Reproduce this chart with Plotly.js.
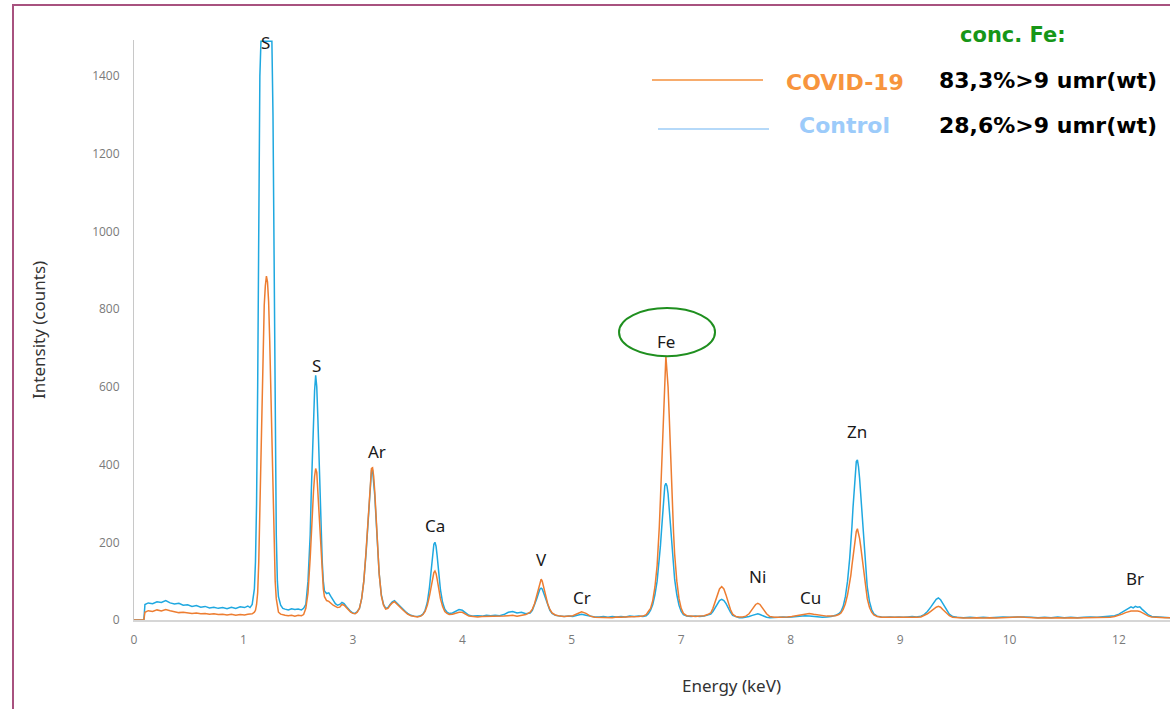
<!DOCTYPE html>
<html>
<head>
<meta charset="utf-8">
<script src="https://cdn.plot.ly/plotly-3.0.1.min.js"></script>
<style>
html,body{margin:0;padding:0;background:#fff;}
#chart{width:1170px;height:709px;}
</style>
</head>
<body>
<div id="chart"></div>
<script>
// Axis positions (evenly spaced label slots) and the labels printed under them
var tickPos = [0,1,2,3,4,5,6,7,8,9];
var tickLabels = ['0','1','3','4','5','7','8','9','10','12'];
var yTicks = [0,200,400,600,800,1000,1200,1400];

// Energy position along the axis (in label slots)
var energyPos = [
0.00,0.09,0.10,0.13,0.17,0.21,0.25,0.29,0.33,0.37,0.41,0.45,0.49,0.53,0.57,0.61,0.65,0.69,0.73,0.77,0.81,0.85,0.89,0.93,0.97,1.01,1.04,
1.06,1.08,1.10,1.11,1.12,1.13,1.14,1.15,1.16,1.17,1.18,1.19,1.20,1.21,1.22,1.23,1.24,1.25,1.26,1.27,1.28,1.29,1.30,1.31,1.32,1.34,1.36,
1.38,1.41,1.44,1.47,1.50,1.53,1.55,
1.57,1.59,1.61,1.62,1.63,1.64,1.65,1.66,1.67,1.68,1.69,1.70,1.71,1.72,1.73,1.74,1.76,1.78,1.80,1.82,1.84,1.86,1.88,1.90,1.92,1.94,1.96,1.98,2.00,2.02,2.04,
2.06,2.08,2.10,2.12,2.13,2.14,2.15,2.16,2.17,2.18,2.19,2.20,2.21,2.22,2.23,2.24,2.26,2.28,2.30,2.32,2.34,2.36,2.38,2.40,2.42,2.44,2.46,2.48,2.50,2.53,2.56,2.59,2.62,
2.64,2.66,2.68,2.70,2.71,2.72,2.73,2.74,2.75,2.76,2.77,2.78,2.79,2.80,2.82,2.84,2.86,2.88,2.91,2.94,2.97,3.00,3.03,3.06,3.10,3.14,3.18,3.22,3.26,3.30,3.34,3.38,3.42,3.46,3.50,3.54,3.58,
3.62,3.64,3.66,3.68,3.70,3.71,3.72,3.73,3.74,3.76,3.78,3.80,3.82,3.85,3.89,3.93,3.97,4.01,4.05,4.09,4.13,4.17,4.21,4.25,4.29,4.33,4.37,4.41,4.45,4.49,4.53,4.57,4.61,4.65,4.68,4.70,
4.72,4.74,4.76,4.78,4.79,4.80,4.81,4.82,4.83,4.84,4.85,4.86,4.87,4.88,4.89,4.90,4.91,4.92,4.93,4.94,4.96,4.98,5.00,5.02,5.05,5.09,5.13,5.17,5.21,5.24,
5.27,5.29,5.31,5.33,5.35,5.37,5.39,5.41,5.43,5.45,5.47,5.50,5.53,5.56,5.59,
5.62,5.65,5.68,5.70,5.72,5.75,5.78,5.81,5.85,5.89,5.93,5.97,6.01,6.05,6.09,6.13,6.17,6.21,6.25,6.29,6.33,6.37,6.41,6.44,
6.46,6.48,6.50,6.52,6.54,6.55,6.56,6.57,6.58,6.59,6.60,6.61,6.62,6.63,6.64,6.65,6.66,6.67,6.68,6.69,6.70,6.72,6.74,6.76,6.79,6.83,6.87,6.91,6.95,6.99,7.03,7.07,7.11,7.15,7.19,
7.22,7.25,7.28,7.31,7.33,7.35,7.37,7.39,7.42,7.45,7.48,7.52,
7.58,7.64,7.70,7.76,7.82,7.88,7.94,8.00,8.06,8.10,8.14,8.20,8.26,8.32,8.38,8.44,8.50,8.56,8.62,8.68,8.74,8.80,8.86,8.92,8.96,
9.00,9.03,9.06,9.09,9.11,9.13,9.15,9.17,9.19,9.21,9.24,9.27,9.30,9.34,9.38,9.42,9.47
];

// Control intensity (counts)
var control = [
0,0,40,44,42,47,45,50,44,41,43,38,39,35,37,33,35,31,33,30,32,29,33,30,34,32,36,
32,40,80,150,300,600,1000,1400,1490,1490,1490,1490,1490,1490,1490,1490,1490,1490,1490,1300,900,500,220,100,60,38,30,
28,26,29,27,28,26,30,
40,100,220,330,430,520,590,630,600,520,420,320,220,150,100,75,68,70,60,50,42,38,40,45,42,35,28,22,18,17,22,
30,55,100,170,215,265,320,365,385,385,360,320,270,215,165,120,65,40,30,32,40,47,50,44,40,33,28,22,17,12,10,9,11,
15,25,45,85,115,145,175,195,200,190,165,135,105,78,45,28,20,17,18,22,27,25,18,12,10,11,10,12,11,12,11,14,20,22,18,20,16,
18,25,38,55,72,80,82,80,72,55,38,25,17,12,10,9,10,9,12,15,12,9,8,8,9,7,9,8,9,8,10,9,10,9,11,16,
25,40,65,100,125,155,190,230,275,320,345,352,345,325,290,250,210,170,135,105,65,38,22,14,10,9,10,9,10,12,
15,22,32,43,50,53,50,42,30,20,12,8,6,6,7,
9,12,15,16,14,10,7,6,6,7,8,7,8,9,10,11,10,9,8,7,8,9,12,16,
22,35,60,100,160,195,240,290,340,380,408,412,395,365,325,280,235,190,150,115,85,48,27,16,10,8,7,8,7,8,7,8,9,8,10,
14,22,33,45,53,57,52,43,28,15,9,7,
6,7,6,7,6,7,8,7,8,9,8,7,6,7,6,8,6,7,6,7,8,7,8,9,11,
15,20,27,32,34,31,35,33,34,28,20,13,9,8,7,7,6
];

// COVID-19 intensity (counts)
var covid = [
0,0,20,24,22,26,23,27,24,22,19,20,18,17,18,16,17,15,16,14,15,13,15,12,14,13,15,
15,16,20,25,40,70,150,280,450,600,720,810,860,885,870,820,720,600,450,300,180,100,55,30,20,15,13,
12,11,12,10,12,11,14,
30,70,160,230,290,330,370,390,380,330,280,220,160,110,80,60,50,48,42,38,35,32,33,40,38,32,25,20,17,16,20,
30,55,100,175,220,270,325,365,390,392,370,330,280,220,170,120,62,38,28,30,38,44,47,41,36,30,25,20,15,11,9,8,10,
14,22,38,62,80,95,110,122,126,120,105,88,70,55,35,22,17,14,15,18,20,20,14,10,9,8,9,9,10,9,10,10,11,12,10,12,14,
20,28,42,62,85,98,105,100,88,62,42,27,18,13,10,9,10,11,16,21,17,10,7,7,6,7,6,8,7,8,8,9,9,10,14,22,
30,50,85,140,185,240,310,390,470,550,620,680,640,600,530,440,360,290,225,170,100,55,30,17,11,10,9,10,11,14,
18,30,48,66,80,86,80,64,45,27,15,9,8,8,10,
16,28,40,43,40,28,16,9,7,7,7,8,9,11,14,16,17,15,13,11,10,10,11,14,
18,27,42,65,95,115,140,165,190,212,228,235,225,210,190,165,140,115,92,72,55,33,20,13,9,7,7,6,7,6,7,6,7,7,8,
11,16,22,29,33,35,33,27,18,11,7,6,
5,5,6,5,6,5,6,6,7,8,7,6,5,6,5,6,5,6,5,6,6,6,7,7,9,
12,15,19,22,23,23,24,23,22,19,14,10,8,7,6,6,6
];

// Element labels over the peaks
var peakNames = ['S','S','Ar','Ca','V','Cr','Fe','Ni','Cu','Zn','Br'];
var peakX = [1.206,1.663,2.22,2.75,3.719,4.094,4.861,5.693,6.177,6.606,9.147];
var peakY = [1487,654,435,244,157,59,718,111,59,484,108];

// Legend / concentration texts
var seriesNames = ['COVID-19','Control'];
var concTitle = 'conc. Fe:';
var concTexts = ['83,3%>9 umr(wt)','28,6%>9 umr(wt)'];

// ---- layout helpers (pixel -> paper) ----
var L = 134, R = 1170, T = 40, B = 620;
function px(x){ return (x - L) / (R - L); }
function py(y){ return (B - y) / (B - T); }

var blue = '#1fa8e0', orange = '#ED7D31';

var traces = [
  {x: energyPos, y: control, type: 'scatter', mode: 'lines', name: seriesNames[1],
   line: {color: blue, width: 1.5}, hoverinfo: 'x+y'},
  {x: energyPos, y: covid, type: 'scatter', mode: 'lines', name: seriesNames[0],
   line: {color: orange, width: 1.5}, hoverinfo: 'x+y'}
];

var labelFont = 'Noto Sans, Open Sans, sans-serif';
var annotations = [];
for (var i = 0; i < peakNames.length; i++) {
  annotations.push({x: peakX[i], y: peakY[i], xref: 'x', yref: 'y', text: peakNames[i],
    showarrow: false, xanchor: 'center', yanchor: 'middle',
    font: {family: labelFont, size: 17, color: '#1a1a1a'}});
}
var legFont = 'DejaVu Sans, Verdana, sans-serif';
annotations.push({x: px(1013), y: py(35), xref: 'paper', yref: 'paper', text: '<b>' + concTitle + '</b>',
  showarrow: false, xanchor: 'center', yanchor: 'middle', font: {family: legFont, size: 21, color: '#179617'}});
annotations.push({x: px(845), y: py(82), xref: 'paper', yref: 'paper', text: '<b>' + seriesNames[0] + '</b>',
  showarrow: false, xanchor: 'center', yanchor: 'middle', font: {family: legFont, size: 22, color: '#F7943D'}});
annotations.push({x: px(844), y: py(126), xref: 'paper', yref: 'paper', text: '<b>' + seriesNames[1] + '</b>',
  showarrow: false, xanchor: 'center', yanchor: 'middle', font: {family: legFont, size: 22, color: '#9CCBFA'}});
annotations.push({x: px(1048), y: py(80), xref: 'paper', yref: 'paper', text: '<b>' + concTexts[0] + '</b>',
  showarrow: false, xanchor: 'center', yanchor: 'middle', font: {family: legFont, size: 22, color: '#000000'}});
annotations.push({x: px(1048), y: py(125), xref: 'paper', yref: 'paper', text: '<b>' + concTexts[1] + '</b>',
  showarrow: false, xanchor: 'center', yanchor: 'middle', font: {family: legFont, size: 22, color: '#000000'}});
// axis titles
annotations.push({x: px(38), y: py(330), xref: 'paper', yref: 'paper', text: 'Intensity (counts)', textangle: -90,
  showarrow: false, xanchor: 'center', yanchor: 'middle', font: {family: labelFont, size: 17, color: '#333333'}});
annotations.push({x: px(731), y: py(685), xref: 'paper', yref: 'paper', text: 'Energy (keV)',
  showarrow: false, xanchor: 'center', yanchor: 'middle', font: {family: labelFont, size: 17, color: '#333333'}});

var shapes = [
  // outer frame
  {type: 'rect', xref: 'paper', yref: 'paper', x0: px(13), x1: px(1200), y0: py(740), y1: py(5),
   line: {color: '#a8527f', width: 2}, fillcolor: 'rgba(0,0,0,0)', layer: 'above'},
  // legend line samples
  {type: 'line', xref: 'paper', yref: 'paper', x0: px(652), x1: px(763), y0: py(80), y1: py(80),
   line: {color: '#F4913C', width: 1.5}},
  {type: 'line', xref: 'paper', yref: 'paper', x0: px(658), x1: px(769), y0: py(129), y1: py(129),
   line: {color: '#9DCDF7', width: 1.5}},
  // green ellipse around Fe
  {type: 'circle', xref: 'x', yref: 'y', x0: 4.432, x1: 5.309, y0: 679, y1: 803,
   line: {color: '#1f8f1f', width: 2}, fillcolor: 'rgba(0,0,0,0)'}
];

var tickFont = {family: 'Open Sans, Noto Sans, sans-serif', size: 12, color: '#7a7a7a'};
var layout = {
  width: 1170, height: 709,
  margin: {l: L, r: 1170 - R, t: T, b: 709 - B, pad: 0},
  paper_bgcolor: '#ffffff', plot_bgcolor: '#ffffff',
  showlegend: false,
  xaxis: {range: [0, (R - L) / 109.44], tickvals: tickPos, ticktext: tickLabels,
    showgrid: false, zeroline: false, showline: true, linecolor: '#d6d6d6', linewidth: 2,
    ticks: '', ticklabelstandoff: 8, tickfont: tickFont},
  yaxis: {range: [0, 1493], tickvals: yTicks,
    showgrid: false, zeroline: false, showline: true, linecolor: '#c8c8c8', linewidth: 1,
    ticks: '', ticklabelstandoff: 11, tickfont: tickFont},
  annotations: annotations,
  shapes: shapes
};

Plotly.newPlot('chart', traces, layout, {displayModeBar: false, staticPlot: true});
</script>
</body>
</html>
